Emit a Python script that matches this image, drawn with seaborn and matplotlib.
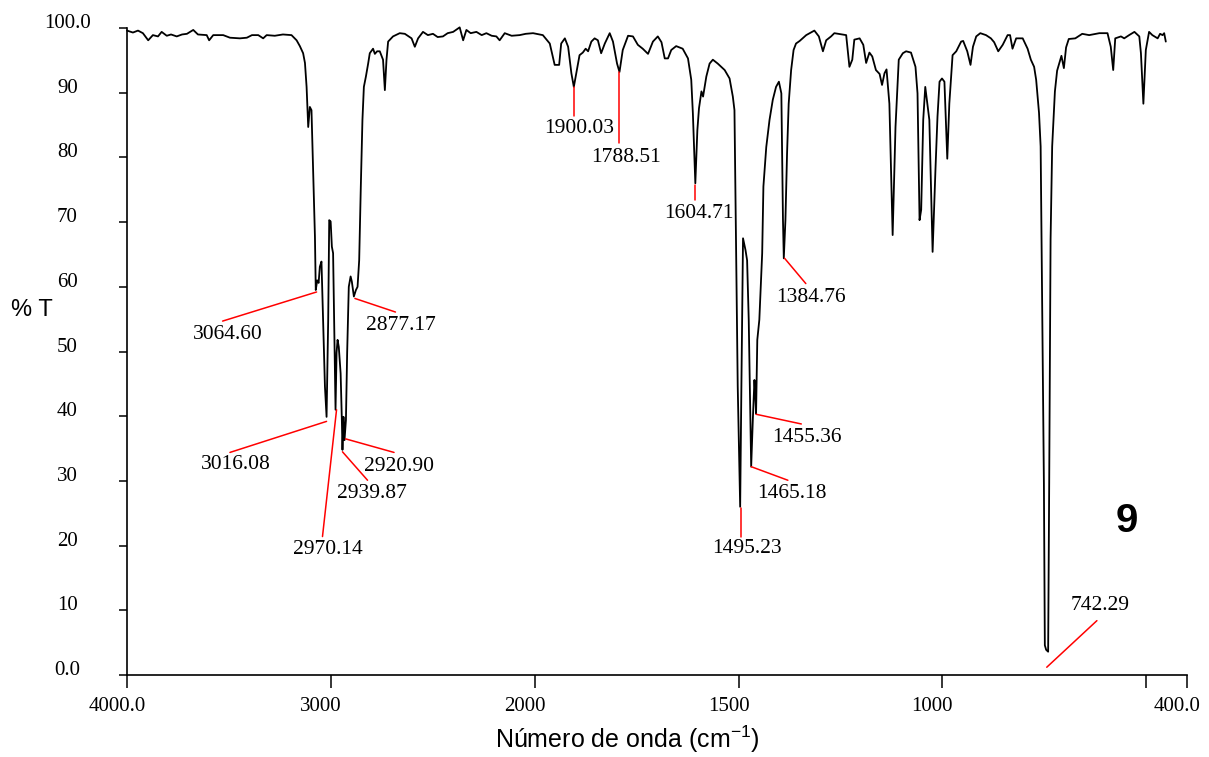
import numpy as np
import pandas as pd
import matplotlib
matplotlib.use("Agg")
import matplotlib.pyplot as plt
import matplotlib.transforms as mtransforms
import seaborn as sns

# ---------------- data ----------------
wavenumber = [
    4000, 3971, 3946, 3922, 3896, 3873, 3848, 3830, 3805, 3784, 3756, 3730, 3706, 3675, 3652,
    3609, 3597, 3577, 3528, 3495, 3446, 3412, 3387, 3356, 3332, 3315, 3275, 3235, 3193, 3168,
    3152, 3136, 3127, 3119, 3111, 3103, 3095, 3087, 3078, 3074, 3067, 3060, 3054, 3046, 3038,
    3029, 3021, 3013, 3008, 3001, 2995, 2989, 2984, 2977, 2972, 2967, 2961, 2952, 2946, 2943,
    2938, 2933, 2926, 2920, 2912, 2903, 2897, 2887, 2877, 2869, 2861, 2853, 2845, 2838, 2828,
    2817, 2809, 2793, 2784, 2773, 2760, 2744, 2735, 2727, 2719, 2695, 2662, 2637, 2604, 2588,
    2572, 2548, 2524, 2499, 2476, 2450, 2427, 2400, 2368, 2351, 2335, 2314, 2286, 2260, 2237,
    2211, 2188, 2172, 2147, 2113, 2074, 2044, 2008,
    1980, 1963, 1951, 1940, 1935, 1926, 1918, 1910, 1904, 1898, 1890, 1882, 1875, 1869, 1861,
    1853, 1845, 1837, 1828, 1816, 1808, 1798, 1792, 1784, 1771, 1759, 1747, 1735, 1722, 1710,
    1698, 1689, 1681, 1673, 1665, 1653, 1637, 1624, 1616, 1612, 1606, 1601, 1597, 1591, 1587,
    1579, 1571, 1563, 1551, 1534, 1522, 1514, 1510, 1506, 1502, 1496, 1493, 1489, 1483, 1479,
    1475, 1471, 1469, 1465, 1461, 1459, 1457, 1454, 1449, 1442, 1439, 1432, 1424, 1416, 1408,
    1401, 1395, 1393, 1391, 1389, 1385, 1381, 1377, 1371, 1365, 1359, 1350, 1334, 1314, 1303,
    1293, 1285, 1273, 1265, 1236, 1228, 1221, 1216, 1203, 1194, 1187, 1179, 1172, 1163, 1154,
    1148, 1142, 1137, 1130, 1122, 1115, 1107, 1097, 1089, 1077, 1066, 1061, 1056, 1052, 1047,
    1042, 1032, 1024, 1017, 1012, 1007, 1001, 995, 988, 983, 975, 966, 954, 949, 939,
    931, 925, 917, 907, 893, 881, 873, 863, 852, 840, 834, 828, 819, 803, 791,
    783, 775, 770, 763, 759, 755, 751, 748.7, 745.5, 740.6, 738, 734.6, 730.7, 724, 718.6,
    708, 702, 696.6, 690, 674, 657, 640, 615, 595, 587, 581, 576, 562, 554, 542,
    529, 517, 513, 507, 501, 493, 485, 472, 466, 460, 456, 452,
]
transmittance = [
    99.6, 99.3, 99.6, 99.2, 98.1, 98.9, 98.7, 99.4, 98.8, 99.0, 98.7, 99.0, 99.1, 99.7, 99.0,
    98.9, 98.1, 98.9, 98.9, 98.5, 98.4, 98.5, 98.9, 98.9, 98.4, 98.9, 98.8, 99.0, 98.9, 98.1,
    97.2, 96.1, 94.6, 90.9, 84.7, 87.8, 87.3, 78.1, 67.7, 59.5, 61.0, 60.6, 63.1, 63.9, 54.9,
    44.6, 39.9, 54.9, 70.3, 70.1, 66.2, 65.2, 54.9, 41.0, 49.8, 51.8, 50.7, 46.6, 39.4, 34.8,
    39.9, 36.3, 39.4, 49.8, 60.0, 61.6, 60.8, 58.5, 59.5, 60.0, 64.1, 75.5, 85.8, 90.9, 92.5,
    94.5, 96.1, 96.8, 96.0, 96.4, 96.4, 95.1, 90.4, 95.1, 97.9, 98.7, 99.2, 99.1, 98.4, 97.1,
    98.4, 99.4, 98.9, 99.1, 98.6, 98.7, 99.2, 99.4, 100.1, 98.1, 99.7, 99.2, 99.4, 98.9, 99.2,
    98.8, 98.7, 98.1, 99.2, 98.8, 98.9, 99.1, 99.2,
    98.9, 97.6, 94.3, 94.3, 97.6, 98.4, 97.1, 93.0, 90.9, 93.0, 95.8, 96.2, 96.8, 96.4, 97.9,
    98.4, 98.1, 96.1, 97.6, 99.2, 97.9, 94.5, 93.2, 96.6, 98.8, 98.7, 97.4, 96.8, 96.0, 97.9,
    98.7, 97.8, 95.3, 95.3, 96.6, 97.2, 96.8, 95.3, 92.0, 86.8, 76.0, 84.2, 87.6, 90.2, 89.4,
    92.5, 94.5, 95.1, 94.5, 93.5, 92.2, 89.4, 87.3, 65.2, 44.6, 26.0, 44.6, 67.5, 65.7, 64.1,
    54.9, 39.4, 32.2, 39.4, 45.6, 43.5, 40.4, 51.8, 54.9, 65.2, 75.5, 81.6, 85.8, 88.9, 90.9,
    91.7, 89.9, 80.6, 70.3, 64.4, 70.3, 80.6, 88.3, 93.5, 96.6, 97.6, 98.0, 98.9, 99.6, 98.7,
    96.4, 98.1, 98.7, 99.2, 98.9, 94.0, 95.1, 98.2, 98.4, 97.4, 94.6, 96.2, 95.6, 93.5, 92.9,
    91.2, 93.0, 93.6, 88.3, 68.0, 84.7, 95.1, 96.1, 96.4, 96.2, 94.0, 89.9, 70.3, 71.9, 85.8,
    90.9, 85.8, 65.4, 78.1, 86.3, 91.7, 92.2, 91.7, 79.8, 88.3, 95.8, 96.4, 97.9, 98.0, 96.4,
    94.3, 97.1, 98.7, 99.2, 98.9, 98.4, 97.8, 96.4, 97.4, 98.9, 98.9, 96.8, 98.4, 98.4, 96.8,
    95.1, 94.0, 92.0, 86.9, 81.7, 55.7, 29.6, 4.6, 3.9, 3.6, 29.7, 67.4, 81.7, 90.2, 93.4,
    95.7, 93.8, 97.0, 98.3, 98.4, 99.1, 98.9, 99.2, 99.2, 97.1, 93.5, 98.4, 98.7, 98.4, 98.9,
    99.4, 98.7, 96.1, 88.3, 96.6, 99.4, 98.9, 98.4, 99.1, 98.9, 99.2, 97.9,
]

# peak annotations: label, peak (wn, %T), line end (wn, %T), text centre (wn, %T)
peak_labels = ["3064.60", "3016.08", "2970.14", "2939.87", "2920.90", "2877.17",
               "1900.03", "1788.51", "1604.71", "1384.76", "1495.23", "1465.18",
               "1455.36", "742.29"]
peak_wn = [3070, 3021, 2972, 2943, 2928, 2882, 1904, 1792, 1606, 1387, 1495, 1469, 1457, 744]
peak_t = [59.2, 39.2, 41.0, 34.5, 36.5, 58.2, 90.9, 93.2, 75.7, 64.4, 25.8, 32.2, 40.3, 1.2]
line_end_wn = [3531, 3495, 3041, 2820, 2690, 2683, 1904, 1792, 1606, 1335, 1495, 1379, 1346, 621]
line_end_t = [54.7, 34.4, 21.4, 30.1, 34.4, 56.1, 86.4, 82.2, 73.4, 60.5, 21.4, 30.1, 38.8, 8.4]
text_wn = [3505, 3466, 3017, 2797, 2667, 2657, 1890, 1777, 1596, 1322, 1480, 1368, 1333, 613]
text_t = [52.6, 32.5, 19.4, 28.0, 32.3, 54.0, 84.4, 80.0, 71.3, 58.3, 19.6, 28.0, 36.7, 10.7]

x_ticks = [4000, 3000, 2000, 1500, 1000, 500, 400]
x_tick_labels = ["4000.0", "3000", "2000", "1500", "1000", "", "400.0"]
y_ticks = [0, 10, 20, 30, 40, 50, 60, 70, 80, 90, 100]
y_tick_labels = ["0.0", "10", "20", "30", "40", "50", "60", "70", "80", "90", "100.0"]

compound_label = "9"
compound_pos = (547, 23.8)

# ---------------- figure ----------------
sns.set_theme(style="white")
plt.rcParams["font.family"] = ["Liberation Serif", "DejaVu Serif"]
plt.rcParams["text.color"] = "black"
plt.rcParams["axes.labelcolor"] = "black"
plt.rcParams["xtick.color"] = "black"
plt.rcParams["ytick.color"] = "black"
plt.rcParams["mathtext.fontset"] = "custom"
plt.rcParams["mathtext.rm"] = "Liberation Sans"
plt.rcParams["mathtext.it"] = "Liberation Sans"
plt.rcParams["mathtext.default"] = "regular"

fig = plt.figure(figsize=(12.09, 7.57), dpi=100)
ax = fig.add_axes([127 / 1209, 1 - 675 / 757, (1187 - 127) / 1209, (675 - 28) / 757])

df = pd.DataFrame({"wn": wavenumber, "T": transmittance})
sns.lineplot(data=df, x="wn", y="T", sort=False, estimator=None, color="black",
             linewidth=1.3, ax=ax, clip_on=False)


def fwd(x):
    x = np.asarray(x, dtype=float)
    return np.where(x >= 2000, x, 2 * x - 2000)


def inv(y):
    y = np.asarray(y, dtype=float)
    return np.where(y >= 2000, y, (y + 2000) / 2)


ax.set_xscale("function", functions=(fwd, inv))
ax.set_xlim(4000, 400)
ax.set_ylim(0, 100)

for lab, pw, pt, ew, et, tw, tt in zip(peak_labels, peak_wn, peak_t, line_end_wn,
                                       line_end_t, text_wn, text_t):
    ax.plot([pw, ew], [pt, et], color="red", linewidth=1.1, clip_on=False)
    ax.text(tw, tt, lab, ha="center", va="center", fontsize=15.5,
            family=["Liberation Serif"], color="black")

ax.text(compound_pos[0], compound_pos[1], compound_label, ha="center", va="center",
        fontsize=29, fontweight="bold", family=["Liberation Sans"], color="black")

for s in ["top", "right"]:
    ax.spines[s].set_visible(False)
for s in ["left", "bottom"]:
    ax.spines[s].set_color("black")
    ax.spines[s].set_linewidth(1.2)

ax.set_xticks(x_ticks)
ax.set_xticklabels(x_tick_labels)
ax.set_yticks(y_ticks)
ax.set_yticklabels(y_tick_labels)
ax.minorticks_off()
ax.tick_params(axis="x", direction="out", length=9, width=1.1, color="black",
               labelcolor="black", labelsize=15, pad=7, bottom=True)
ax.tick_params(axis="y", direction="out", length=6, width=1.1, color="black",
               labelcolor="black", labelsize=15, pad=37, left=True)
for lab in ax.get_yticklabels():
    lab.set_horizontalalignment("center")
    lab.set_verticalalignment("baseline")
shift = mtransforms.ScaledTranslation(-0.10, 0, fig.dpi_scale_trans)
for lab in ax.get_xticklabels():
    lab.set_transform(lab.get_transform() + shift)

ax.set_xlabel("")
ax.set_ylabel("")
fig.text(627 / 1209, 1 - 739 / 757, "Número de onda (cm$^{-1}$)",
         ha="center", va="center", fontsize=18, family=["Liberation Sans"], color="black")
fig.text(32 / 1209, 1 - 310 / 757, "% T", ha="center", va="center", fontsize=17,
         family=["Liberation Sans"], color="black")

fig.savefig("out.png", dpi=100)
